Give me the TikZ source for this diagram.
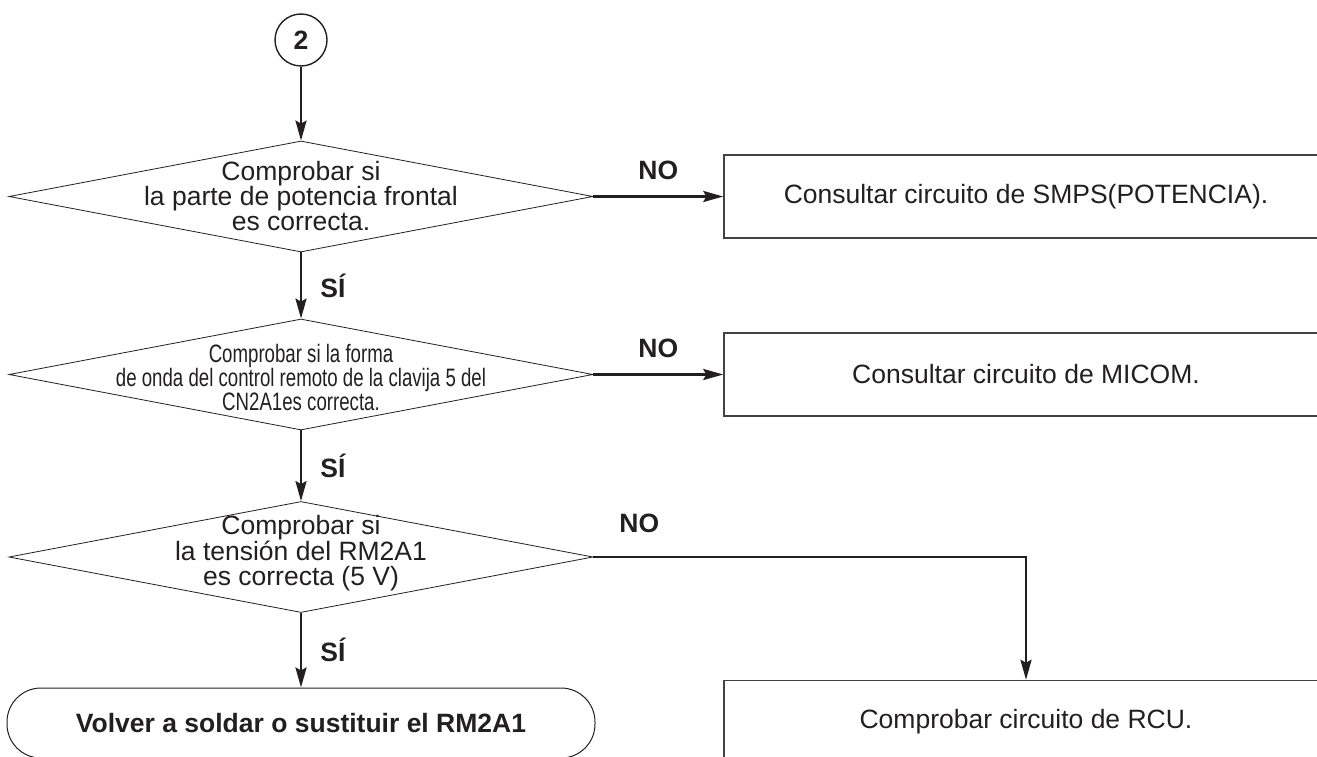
\documentclass[tikz,border=0pt]{standalone}
\usepackage{fontspec}
\setmainfont{Liberation Sans}
\newfontfamily\narrowfont[FakeStretch=0.74]{Liberation Sans}
\usetikzlibrary{shapes.geometric,arrows.meta}
\definecolor{ink}{HTML}{231F20}
\begin{document}
\begin{tikzpicture}[x=1pt,y=-1pt,
  flow/.style={draw=ink, line width=2.7pt, -{Stealth[length=20pt,width=11pt,inset=3pt]}},
  decision/.style={diamond, draw=ink, line width=0.8pt, minimum width=584pt,
    minimum height=111pt, inner sep=0pt},
  dtext/.style={align=center, text=ink, inner sep=0pt,
    font=\fontsize{26.5}{25}\selectfont},
  dtextnarrow/.style={align=center, text=ink, inner sep=0pt,
    font=\narrowfont\fontsize{25.2}{21.5}\selectfont},
  action/.style={rectangle, draw=ink!85, line width=1.4pt, minimum width=604pt,
    minimum height=83pt, inner sep=0pt, text=ink, font=\fontsize{26.5}{30}\selectfont},
  terminal/.style={rectangle, draw=ink, line width=1pt, rounded corners=34pt,
    minimum width=588pt, minimum height=70pt, inner sep=0pt, text=ink,
    font=\bfseries\fontsize{26.5}{30}\selectfont},
  connector/.style={circle, draw=ink, line width=1.4pt, minimum size=52pt,
    inner sep=0pt, text=ink, font=\bfseries\fontsize{26.5}{30}\selectfont},
  answer/.style={inner sep=0pt, text=ink, font=\bfseries\fontsize{26.5}{30}\selectfont}
]
\useasboundingbox (0,0) rectangle (1317,757);
\clip (0,0) rectangle (1317,757);

% entry connector
\node[connector] (start) at (301,40) {2};

% decisions
\node[decision] (d1) at (301,196.5) {};
\node[dtext] (t1) at (d1.center) {Comprobar si\\la parte de potencia frontal\\es correcta.};

\node[decision] (d2) at (301,374.5) {};
\node[dtextnarrow] (t2) at ([yshift=-3pt]d2.center)
  {Comprobar si la forma\\de onda del control remoto de la clavija 5 del\\CN2A1es correcta.};

\node[decision] (d3) at (301,557) {};
\node[dtext] (t3) at ([yshift=4pt]d3.center) {Comprobar si\\la tensión del RM2A1\\es correcta (5 V)};

% actions
\node[action] (b1) at (1026,196.5) {Consultar circuito de SMPS(POTENCIA).};
\node[action] (b2) at (1026,374.5) {Consultar circuito de MICOM.};
\node[action] (b3) at (1026,722) {Comprobar circuito de RCU.};

% end
\node[terminal] (end) at (301,723) {Volver a soldar o sustituir el RM2A1};

% flow
\draw[flow] (start) -- (d1.north);
\draw[flow] (d1.south) -- node[answer, right=18pt] {SÍ} (d2.north);
\draw[flow] (d2.south) -- node[answer, right=18pt] {SÍ} (d3.north);
\draw[flow] (d3.south) -- node[answer, right=18pt] {SÍ} (end.north);

\draw[flow] (d1.east) -- node[answer, above=15.5pt] {NO} (b1.west);
\draw[flow] (d2.east) -- node[answer, above=15.5pt] {NO} (b2.west);
\draw[flow] (d3.east) -| node[answer, pos=0.053, above=23pt] {NO} (b3.north);
\end{tikzpicture}
\end{document}
